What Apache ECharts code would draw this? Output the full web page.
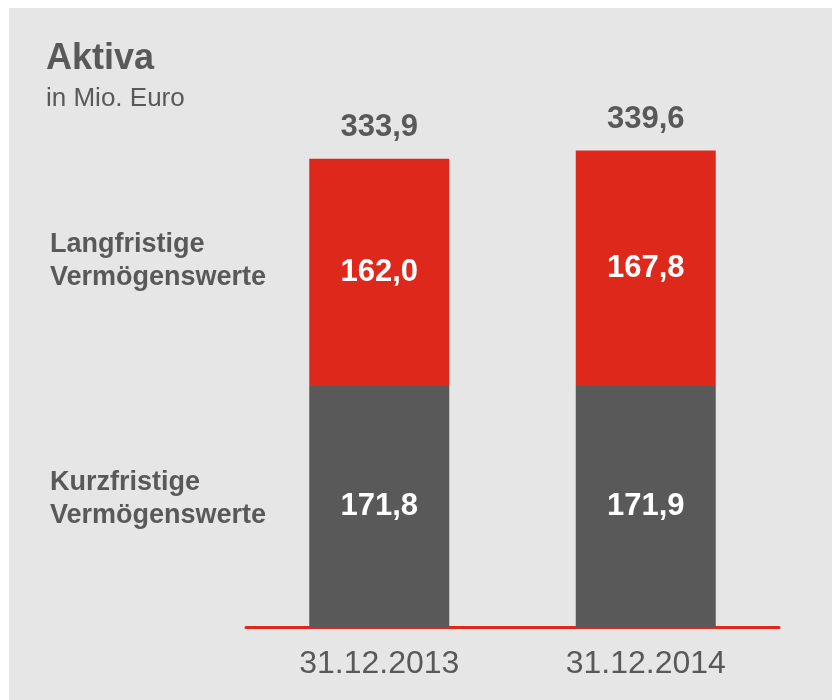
<!DOCTYPE html>
<html>
<head>
<meta charset="utf-8">
<script src="https://cdn.jsdelivr.net/npm/echarts@6/dist/echarts.min.js"></script>
<style>
  html, body { margin: 0; padding: 0; background: #ffffff; }
  #chart { width: 832px; height: 700px; }
</style>
</head>
<body>
<div id="chart"></div>
<script>
var categories = ['31.12.2013', '31.12.2014'];
var kurzfristig = [171.8, 171.9];
var langfristig = [162.0, 167.8];
var totals = [333.9, 339.6];

var seriesNames = ['Kurzfristige\nVermögenswerte', 'Langfristige\nVermögenswerte'];

var textGray = '#595959';
var red = '#de281b';
var fontFam = 'Liberation Sans';

// deutsches Zahlenformat
function fmt(v) {
  return v.toFixed(1).replace('.', ',');
}

var chart = echarts.init(document.getElementById('chart'), null, { renderer: 'canvas' });

var option = {
  animation: false,
  backgroundColor: '#ffffff',
  textStyle: { fontFamily: fontFam },
  graphic: [
    {
      type: 'rect',
      z: -10,
      shape: { x: 9, y: 8, width: 823, height: 692 },
      style: { fill: '#e6e6e6' }
    },
    {
      type: 'text', left: 46, top: 41,
      style: { text: 'Aktiva', fill: textGray, fontFamily: fontFam, fontWeight: 'bold', fontSize: 36 }
    },
    {
      type: 'text', left: 46, top: 86,
      style: { text: 'in Mio. Euro', fill: textGray, fontFamily: fontFam, fontSize: 26 }
    },
    {
      type: 'text', left: 50, top: 228,
      style: { text: seriesNames[1], fill: textGray, fontFamily: fontFam, fontWeight: 'bold', fontSize: 27, lineHeight: 33 }
    },
    {
      type: 'text', left: 50, top: 466,
      style: { text: seriesNames[0], fill: textGray, fontFamily: fontFam, fontWeight: 'bold', fontSize: 27, lineHeight: 33 }
    }
  ],
  grid: {
    left: 246,
    right: 53,
    top: 66,
    bottom: 73
  },
  xAxis: {
    type: 'category',
    data: categories,
    axisLine: { lineStyle: { color: red, width: 3 } },
    axisTick: { show: false },
    axisLabel: {
      color: textGray,
      fontSize: 32,
      fontFamily: fontFam,
      margin: 21
    }
  },
  yAxis: {
    type: 'value',
    min: 0,
    max: 400,
    show: false,
    splitLine: { show: false }
  },
  series: [
    {
      name: 'Kurzfristige Vermögenswerte',
      type: 'bar',
      stack: 'aktiva',
      barWidth: 140,
      itemStyle: { color: textGray },
      label: {
        show: true,
        position: 'inside',
        color: '#ffffff',
        fontWeight: 'bold',
        fontSize: 31,
        fontFamily: fontFam,
        formatter: function(p) { return fmt(p.value); }
      },
      data: kurzfristig
    },
    {
      name: 'Langfristige Vermögenswerte',
      type: 'bar',
      stack: 'aktiva',
      barWidth: 140,
      itemStyle: { color: red },
      label: {
        show: true,
        position: 'inside',
        color: '#ffffff',
        fontWeight: 'bold',
        fontSize: 31,
        fontFamily: fontFam,
        formatter: function(p) { return fmt(p.value); }
      },
      data: langfristig
    },
    {
      // nur für die Summen oben
      name: 'Summe',
      type: 'bar',
      stack: 'aktiva',
      barWidth: 140,
      silent: true,
      itemStyle: { color: 'transparent' },
      label: {
        show: true,
        position: 'top',
        distance: 16,
        color: textGray,
        fontWeight: 'bold',
        fontSize: 31,
        fontFamily: fontFam,
        formatter: function(p) { return fmt(totals[p.dataIndex]); }
      },
      data: [0, 0]
    }
  ]
};

chart.setOption(option, { notMerge: true });
</script>
</body>
</html>
